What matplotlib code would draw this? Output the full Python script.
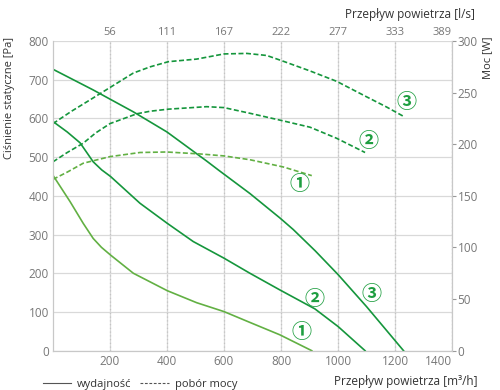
import numpy as np
import matplotlib.pyplot as plt
from matplotlib.lines import Line2D

plt.rcParams['font.family'] = ['Open Sans', 'DejaVu Sans']

# wydajnosc: cisnienie statyczne [Pa] vs przeplyw [m3/h]
q1 = [0, 30, 60, 106, 141, 170, 202, 282, 401, 504, 600, 691, 796, 908]
p1 = [453, 419, 385, 329, 290, 267, 247, 200, 155, 124, 101, 73, 41, 0]
q2 = [0, 50, 95, 141, 171, 202, 305, 401, 492, 600, 691, 796, 919, 1001, 1095]
p2 = [592, 565, 537, 488, 467, 450, 381, 329, 282, 239, 200, 157, 108, 62, 0]
q3 = [0, 140, 282, 341, 400, 539, 580, 691, 796, 843, 920, 1001, 1100, 1230]
p3 = [727, 674, 617, 591, 565, 490, 467, 406, 343, 313, 258, 196, 114, 0]

# pobor mocy [W]
qm1 = [0, 50, 106, 200, 305, 399, 516, 600, 691, 808, 908]
m1 = [166, 173, 181.6, 188, 192, 192.5, 190.6, 188.7, 185, 178, 169.6]
qm2 = [0, 50, 106, 150, 200, 294, 341, 405, 539, 600, 691, 802, 902, 995, 1095]
m2 = [183, 192, 201, 211, 220, 229.5, 232, 234, 236.4, 235.5, 230, 223, 216.5, 205.8, 192]
qm3 = [0, 65, 130, 165, 282, 341, 405, 504, 600, 680, 750, 802, 902, 995, 1100, 1171, 1230]
m3 = [220, 232, 243, 249, 269, 275, 280, 282.5, 287.5, 288, 286, 281, 271, 261, 246, 236, 227]

x_ticks = [200, 400, 600, 800, 1000, 1200, 1400]
ls_labels = ['56', '111', '167', '222', '277', '333', '389']
y_ticks = [0, 100, 200, 300, 400, 500, 600, 700, 800]
w_ticks = [0, 50, 100, 150, 200, 250, 300]

labels = ['\u2460', '\u2461', '\u2462']
lab_q = [872, 919, 1118]
lab_p = [49, 135, 147]
lab_qm = [866, 1107, 1240]
lab_m = [162, 204, 241]

light = '#62b043'
dark = '#15963c'
lab_col = '#1e9e40'
grid_col = '#d9d9d9'
txt = '#333333'
tick_col = '#777777'

fig = plt.figure(figsize=(5, 3.9), dpi=100)
ax = fig.add_axes([0.106, 0.1008, 0.798, 0.794])
ax2 = ax.twinx()

ax.set_xlim(0, 1400)
ax.set_ylim(0, 800)
ax2.set_ylim(0, 300)

for y in y_ticks:
    ax.axhline(y, color=grid_col, lw=0.9, zorder=0)
for x in x_ticks:
    ax.axvline(x, color=grid_col, lw=0.9, zorder=0)
    ax.axvline(x, color='#c4c4c4', lw=0.9, ls=(0, (1, 2)), zorder=0)

ax.plot(q1, p1, color=light, lw=1.2)
ax.plot(q2, p2, color=dark, lw=1.2)
ax.plot(q3, p3, color=dark, lw=1.2)
dash = (0, (3, 1.5))
ax2.plot(qm1, m1, color=light, lw=1.2, ls=dash)
ax2.plot(qm2, m2, color=dark, lw=1.2, ls=dash)
ax2.plot(qm3, m3, color=dark, lw=1.2, ls=dash)

cfam = ['Noto Sans CJK JP', 'DejaVu Sans']
for i in range(3):
    ax.text(lab_q[i], lab_p[i], labels[i], color=lab_col, fontsize=14.5,
            ha='center', va='center', family=cfam, fontweight='bold')
    ax2.text(lab_qm[i], lab_m[i], labels[i], color=lab_col, fontsize=14.5,
             ha='center', va='center', family=cfam, fontweight='bold')

for a in (ax, ax2):
    for s in a.spines.values():
        s.set_color('#c8c8c8')
    a.spines['top'].set_visible(False)

ax.set_xticks(x_ticks)
ax.set_yticks(y_ticks)
ax.tick_params(axis='both', length=0, labelsize=8.5, labelcolor=tick_col, pad=3)
ax.get_xticklabels()[-1].set_ha('right')
ax2.set_yticks(w_ticks)
ax2.tick_params(axis='y', length=3, color='#999999', labelsize=8.5,
                labelcolor=tick_col, pad=1)

top = ax.secondary_xaxis('top', functions=(lambda v: v / 3.6, lambda v: v * 3.6))
top.set_xticks([t / 3.6 for t in x_ticks])
top.set_xticklabels(ls_labels)
top.tick_params(length=0, labelsize=8, labelcolor=tick_col, pad=2)
top.spines['top'].set_visible(False)
top.get_xticklabels()[-1].set_ha('right')

fig.text(0.02, 0.75, 'Ciśnienie statyczne [Pa]', rotation=90, ha='center',
         va='center', fontsize=8, color=txt)
fig.text(0.976, 0.851, 'Moc [W]', rotation=90, ha='center', va='center',
         fontsize=8, color=txt)
fig.text(0.95, 0.964, 'Przepływ powietrza [l/s]', ha='right', va='center',
         fontsize=8.5, color=txt)
fig.text(0.956, 0.023, 'Przepływ powietrza [m³/h]', ha='right', va='center',
         fontsize=8.5, color=txt)

handles = [Line2D([], [], color='#555555', lw=0.8),
           Line2D([], [], color='#555555', lw=0.8, ls=(0, (2.5, 1.5)))]
fig.legend(handles, ['wydajność', 'pobór mocy'], loc='lower left',
           bbox_to_anchor=(0.065, -0.025), ncol=2, frameon=False, fontsize=8,
           handlelength=2.6, handletextpad=0.5, columnspacing=0.8,
           labelcolor=txt)

fig.savefig('out.png', dpi=100)
